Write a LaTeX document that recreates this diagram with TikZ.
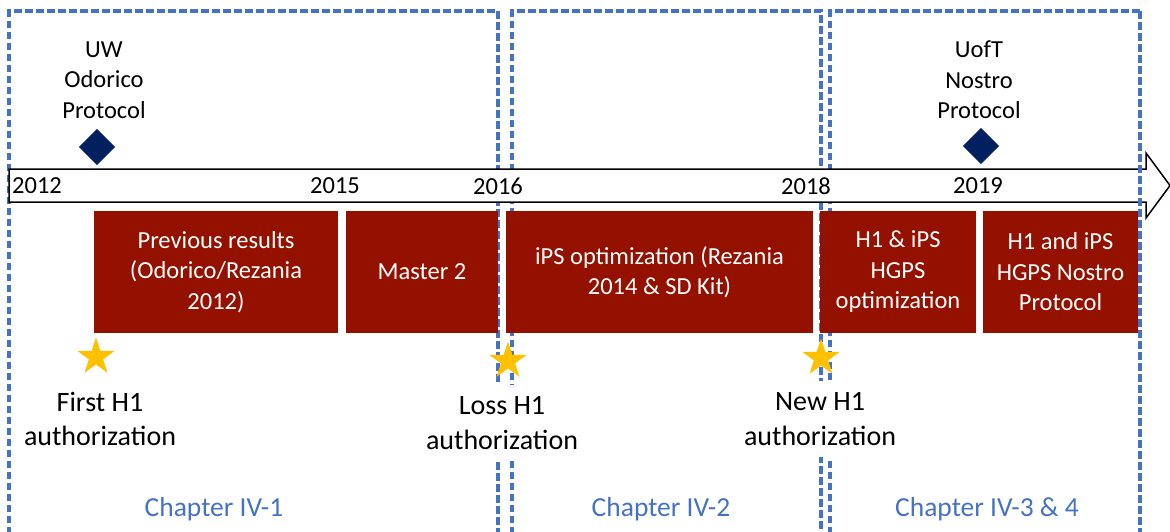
\documentclass[tikz,border=0pt]{standalone}
\usepackage{fontspec}
\setmainfont{Carlito}
\usetikzlibrary{positioning,shapes.geometric}
\definecolor{tlblue}{RGB}{68,114,196}
\definecolor{tlred}{RGB}{148,17,0}
\definecolor{tlnavy}{RGB}{0,32,96}
\definecolor{tlgold}{RGB}{255,192,0}

\begin{document}
\begin{tikzpicture}[x=1pt,y=-1pt,every node/.style={align=center,font=\fontsize{24.5}{30.5}\selectfont},
    chapframe/.style={draw=tlblue,line width=3.2pt,dash pattern=on 7.5pt off 3.5pt},
    phasebox/.style={fill=tlred,text=white,minimum height=122pt,inner sep=0pt,outer sep=0pt},
    milestone/.style={diamond,fill=tlnavy,draw=tlnavy!80,minimum size=36pt,inner sep=0pt},
    authstar/.style={star,star points=5,star point ratio=2.6,fill=tlgold,minimum size=39pt,inner sep=0pt},
    eventtext/.style={fill=white,inner xsep=4pt,inner ysep=12pt,font=\fontsize{28}{34.5}\selectfont},
    chaplabel/.style={text=tlblue,font=\fontsize{27.5}{33}\selectfont}]
    \useasboundingbox (0,0) rectangle (1170,531);
    % chapter frames
    \draw[chapframe] (9,545) |- (498,11) -- (498,545);
    \draw[chapframe] (512,545) |- (821,11) -- (821,545);
    \draw[chapframe] (830,545) |- (1140,11);
    % time axis
    \draw[line width=1.5pt,fill=white] (9,169) -- (1146,169) -- (1146,153) -- (1170,185.5) -- (1146,218) -- (1146,202) -- (9,202) -- cycle;
    \foreach \yr/\xx in {2012/37,2015/335,2016/498,2018/806,2019/978}
      \node (y\yr) at (\xx,186) {\yr};
    % phases
    \node[phasebox,minimum width=244pt] (prev) at (216,272) {Previous results\\(Odorico/Rezania\\2012)};
    \node[phasebox,minimum width=152pt,right=8pt of prev] (master) {Master 2};
    \node[phasebox,minimum width=307pt,right=8pt of master] (ipsopt) {iPS optimization (Rezania\\2014 \& SD Kit)};
    \node[phasebox,minimum width=156pt,right=7pt of ipsopt] (hgpsopt) {H1 \& iPS\\HGPS\\optimization};
    \node[phasebox,minimum width=155pt,right=7pt of hgpsopt] (hgpsnos) {H1 and iPS\\HGPS Nostro\\Protocol};
    % protocols
    \node[milestone] (uwdot) at (97,147) {};
    \node (uw) at (104,80) {UW\\Odorico\\Protocol};
    \node[milestone] (uoftdot) at (981,146) {};
    \node (uoft) at (979,80) {UofT\\Nostro\\Protocol};
    % authorizations
    \node[authstar] (first) at (96,357) {};
    \node[authstar] (loss) at (508,361) {};
    \node[authstar] (new) at (821,358) {};
    \node[eventtext] (firsttxt) at (100,419) {First H1\\authorization};
    \node[eventtext] (losstxt) at (502,423) {Loss H1\\authorization};
    \node[eventtext] (newtxt) at (820,419) {New H1\\authorization};
    % chapters
    \node[chaplabel] (ch1) at (214,509) {Chapter IV-1};
    \node[chaplabel] (ch2) at (661,509) {Chapter IV-2};
    \node[chaplabel] (ch3) at (987,509) {Chapter IV-3 \& 4};
    \draw[chapframe] (1140,11) -- (1140,545);
\end{tikzpicture}
\end{document}
